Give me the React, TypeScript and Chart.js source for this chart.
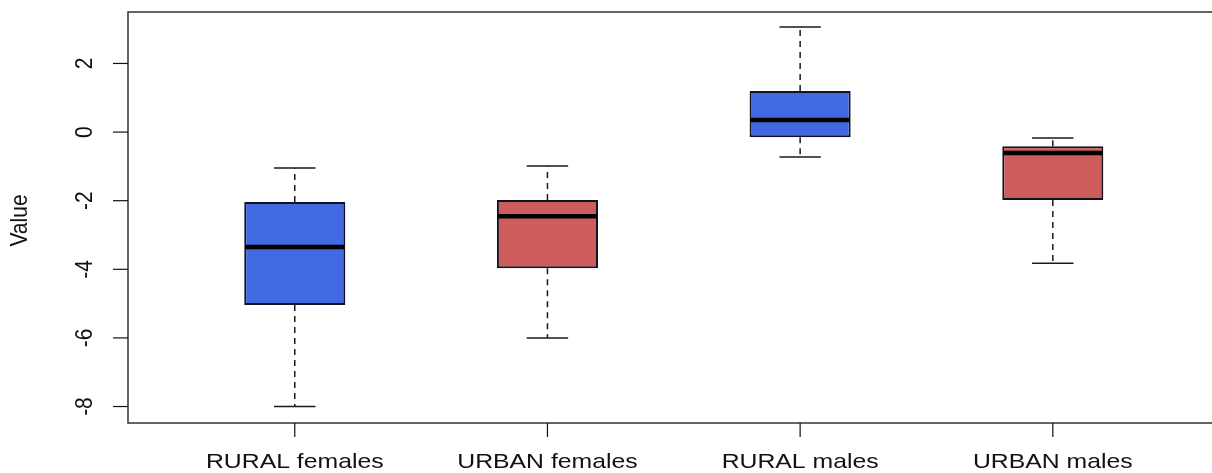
import React, { useEffect, useRef } from "react";
import { Chart, registerables } from "chart.js";

Chart.register(...registerables);

const categories = ["RURAL females", "URBAN females", "RURAL males", "URBAN males"];
const whiskerLow = [-8.0, -6.0, -0.73, -3.82];
const q1 = [-5.04, -3.97, -0.15, -1.98];
const median = [-3.35, -2.45, 0.35, -0.61];
const q3 = [-2.04, -1.98, 1.2, -0.41];
const whiskerHigh = [-1.05, -0.99, 3.06, -0.17];
const boxColors = ["#4169E1", "#CD5C5C", "#4169E1", "#CD5C5C"];
const yTicks = [-8, -6, -4, -2, 0, 2];
const yTitle = "Value";

const FONT = '21px "Liberation Sans", Arial, sans-serif';
const STRETCH = 1.18;
const INK = "#111";

const boxPlotPlugin = {
  id: "boxPlotExtras",
  beforeDatasetsDraw(chart: any) {
    const ctx = chart.ctx;
    const y = chart.scales.y;
    const meta = chart.getDatasetMeta(0);
    ctx.save();
    ctx.strokeStyle = "#1a1a1a";
    ctx.lineWidth = 1.5;
    meta.data.forEach((bar: any, i: number) => {
      const cx = bar.x;
      const capHalf = bar.width * 0.205;
      ctx.setLineDash([6, 5]);
      ctx.beginPath();
      ctx.moveTo(cx, y.getPixelForValue(q3[i]));
      ctx.lineTo(cx, y.getPixelForValue(whiskerHigh[i]));
      ctx.moveTo(cx, y.getPixelForValue(q1[i]));
      ctx.lineTo(cx, y.getPixelForValue(whiskerLow[i]));
      ctx.stroke();
      ctx.setLineDash([]);
      ctx.beginPath();
      const yh = y.getPixelForValue(whiskerHigh[i]);
      const yl = y.getPixelForValue(whiskerLow[i]);
      ctx.moveTo(cx - capHalf, yh);
      ctx.lineTo(cx + capHalf, yh);
      ctx.moveTo(cx - capHalf, yl);
      ctx.lineTo(cx + capHalf, yl);
      ctx.stroke();
    });
    ctx.restore();
  },
  afterDatasetsDraw(chart: any) {
    const ctx = chart.ctx;
    const y = chart.scales.y;
    const meta = chart.getDatasetMeta(0);
    ctx.save();
    ctx.strokeStyle = "#000";
    ctx.lineWidth = 4.5;
    meta.data.forEach((bar: any, i: number) => {
      const half = bar.width / 2 - 1;
      const ym = y.getPixelForValue(median[i]);
      ctx.beginPath();
      ctx.moveTo(bar.x - half, ym);
      ctx.lineTo(bar.x + half, ym);
      ctx.stroke();
    });
    ctx.restore();
  },
  afterDraw(chart: any) {
    const ctx = chart.ctx;
    const area = chart.chartArea;
    const x = chart.scales.x;
    const y = chart.scales.y;
    ctx.save();
    ctx.strokeStyle = "#333";
    ctx.lineWidth = 1.5;
    ctx.beginPath();
    ctx.moveTo(chart.width + 5, area.top);
    ctx.lineTo(area.left, area.top);
    ctx.lineTo(area.left, area.bottom);
    ctx.lineTo(chart.width + 5, area.bottom);
    ctx.stroke();

    ctx.strokeStyle = INK;
    ctx.lineWidth = 1.2;
    ctx.fillStyle = INK;
    ctx.font = FONT;

    yTicks.forEach((v) => {
      const py = y.getPixelForValue(v);
      ctx.beginPath();
      ctx.moveTo(area.left - 15, py);
      ctx.lineTo(area.left, py);
      ctx.stroke();
      ctx.save();
      ctx.translate(area.left - 36, py);
      ctx.scale(STRETCH, 1);
      ctx.rotate(-Math.PI / 2);
      ctx.textAlign = "center";
      ctx.textBaseline = "alphabetic";
      ctx.fillText(String(v), 0, 0);
      ctx.restore();
    });

    categories.forEach((c, i) => {
      const px = x.getPixelForValue(i + 1);
      ctx.beginPath();
      ctx.moveTo(px, area.bottom);
      ctx.lineTo(px, area.bottom + 14);
      ctx.stroke();
      ctx.save();
      ctx.translate(px, 468);
      ctx.scale(STRETCH, 1);
      ctx.textAlign = "center";
      ctx.textBaseline = "alphabetic";
      ctx.fillText(c, 0, 0);
      ctx.restore();
    });

    ctx.save();
    ctx.translate(27, (area.top + area.bottom) / 2 + 3);
    ctx.scale(STRETCH, 1);
    ctx.rotate(-Math.PI / 2);
    ctx.textAlign = "center";
    ctx.textBaseline = "alphabetic";
    ctx.fillText(yTitle, 0, 0);
    ctx.restore();

    ctx.restore();
  },
};

export default function App() {
  const canvasRef = useRef<HTMLCanvasElement | null>(null);

  useEffect(() => {
    document.body.style.margin = "0";
    const canvas = canvasRef.current;
    if (!canvas) return;
    const chart = new Chart(canvas, {
      type: "bar",
      data: {
        datasets: [
          {
            data: categories.map((_, i) => ({ x: i + 1, y: [q1[i], q3[i]] })) as any,
            backgroundColor: boxColors,
            borderColor: "#111122",
            borderWidth: 2,
            borderSkipped: false,
            barPercentage: 0.4,
            categoryPercentage: 1.0,
          },
        ],
      },
      options: {
        animation: false,
        responsive: false,
        devicePixelRatio: 1,
        layout: { padding: { left: 128, top: 12, right: 0, bottom: 50 } },
        plugins: { legend: { display: false }, tooltip: { enabled: false } },
        scales: {
          x: {
            type: "linear",
            min: 0.34,
            max: 4.63,
            offset: false,
            display: false,
            afterBuildTicks: (s: any) => {
              s.ticks = categories.map((_, i) => ({ value: i + 1 }));
            },
          },
          y: {
            type: "linear",
            min: -8.48,
            max: 3.5,
            display: false,
          },
        },
      },
      plugins: [boxPlotPlugin],
    });
    return () => chart.destroy();
  }, []);

  return (
    <div style={{ width: 1212, height: 473, background: "#fff" }}>
      <canvas ref={canvasRef} width={1212} height={473} style={{ display: "block" }} />
    </div>
  );
}
